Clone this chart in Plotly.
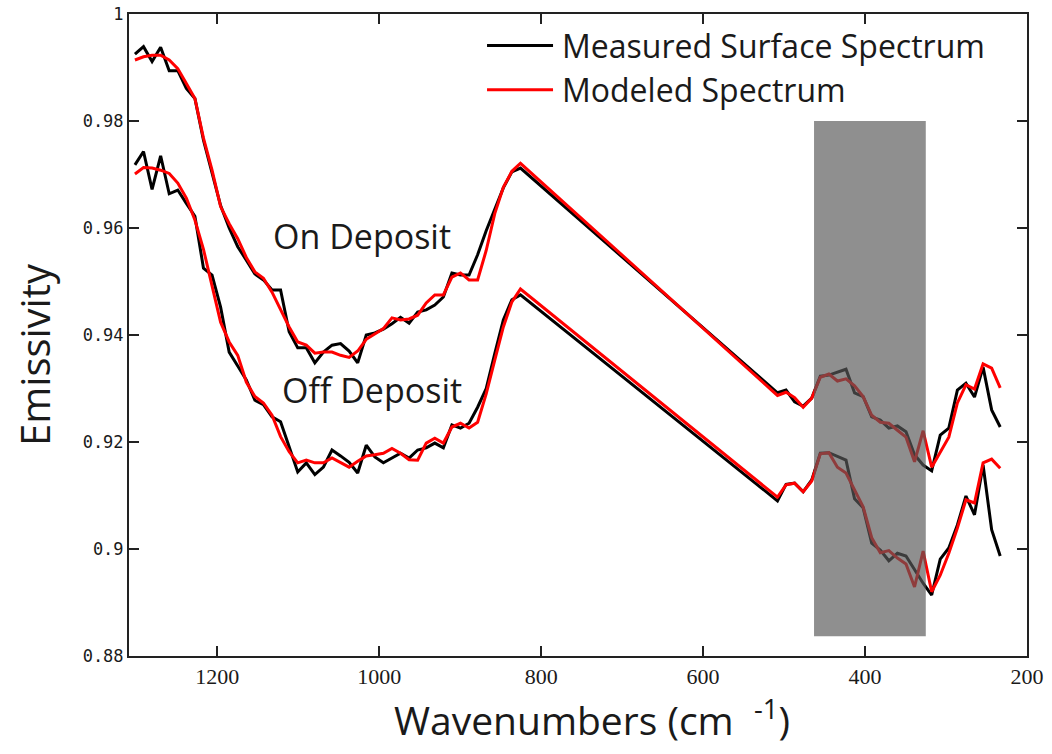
import numpy as np
import plotly.graph_objects as go

# TES-style spectral sampling: channel centres every ~10.58 cm-1
k_high = list(range(101, 55, -1))   # 1301.6 ... 825.6 cm-1
k_low = list(range(26, -1, -1))     # 508.2 ... 233.1 cm-1
wavenumber = [round(233.08 + 10.58 * k, 2) for k in k_high + k_low]

# On-deposit spectra (high band then low band, descending wavenumber)
on_measured = [
    0.9925, 0.9939, 0.9911, 0.9938, 0.9894, 0.9894, 0.9861, 0.9842, 0.9764, 0.9705,
    0.9642, 0.9600, 0.9565, 0.9540, 0.9514, 0.9503, 0.9484, 0.9484, 0.9406, 0.9376,
    0.9376, 0.9348, 0.9368, 0.9381, 0.9384, 0.9370, 0.9348, 0.9400, 0.9404, 0.9411,
    0.9421, 0.9433, 0.9422, 0.9443, 0.9447, 0.9456, 0.9471, 0.9516, 0.9512, 0.9512,
    0.9550, 0.9595, 0.9635, 0.9675, 0.9705, 0.9712,
    0.9292, 0.9297, 0.9275, 0.9267, 0.9282, 0.9323, 0.9325, 0.9331, 0.9336, 0.9292,
    0.9285, 0.9247, 0.9241, 0.9226, 0.9230, 0.9219, 0.9176, 0.9157, 0.9146, 0.9213,
    0.9226, 0.9297, 0.9310, 0.9284, 0.9340, 0.9260, 0.9228,
]
on_modeled = [
    0.9914, 0.9920, 0.9923, 0.9923, 0.9914, 0.9898, 0.9870, 0.9842, 0.9768, 0.9708,
    0.9640, 0.9608, 0.9580, 0.9545, 0.9518, 0.9506, 0.9480, 0.9447, 0.9415, 0.9387,
    0.9381, 0.9366, 0.9368, 0.9368, 0.9362, 0.9358, 0.9370, 0.9392, 0.9402, 0.9412,
    0.9432, 0.9428, 0.9430, 0.9437, 0.9460, 0.9475, 0.9475, 0.9508, 0.9516, 0.9503,
    0.9503, 0.9558, 0.9627, 0.9676, 0.9706, 0.9721,
    0.9287, 0.9293, 0.9283, 0.9265, 0.9282, 0.9321, 0.9327, 0.9314, 0.9318, 0.9305,
    0.9285, 0.9250, 0.9237, 0.9235, 0.9222, 0.9209, 0.9163, 0.9221, 0.9153, 0.9181,
    0.9209, 0.9273, 0.9307, 0.9299, 0.9346, 0.9338, 0.9301,
]

# Off-deposit spectra
off_measured = [
    0.9718, 0.9743, 0.9672, 0.9735, 0.9664, 0.9671, 0.9646, 0.9622, 0.9525, 0.9512,
    0.9452, 0.9368, 0.9342, 0.9316, 0.9278, 0.9270, 0.9247, 0.9238, 0.9191, 0.9144,
    0.9161, 0.9139, 0.9153, 0.9185, 0.9174, 0.9162, 0.9142, 0.9194, 0.9172, 0.9161,
    0.9170, 0.9179, 0.9170, 0.9185, 0.9189, 0.9198, 0.9189, 0.9232, 0.9226, 0.9235,
    0.9265, 0.9300, 0.9365, 0.9428, 0.9466, 0.9475,
    0.9090, 0.9121, 0.9123, 0.9107, 0.9129, 0.9179, 0.9180, 0.9173, 0.9166, 0.9094,
    0.9077, 0.9011, 0.8998, 0.8978, 0.8992, 0.8987, 0.8961, 0.8936, 0.8914, 0.8981,
    0.9002, 0.9045, 0.9099, 0.9064, 0.9157, 0.9036, 0.8987,
]
off_modeled = [
    0.9701, 0.9713, 0.9712, 0.9708, 0.9702, 0.9684, 0.9656, 0.9615, 0.9560, 0.9492,
    0.9424, 0.9387, 0.9362, 0.9312, 0.9285, 0.9273, 0.9250, 0.9210, 0.9182, 0.9161,
    0.9166, 0.9161, 0.9161, 0.9170, 0.9162, 0.9153, 0.9164, 0.9174, 0.9176, 0.9179,
    0.9188, 0.9179, 0.9167, 0.9166, 0.9198, 0.9207, 0.9198, 0.9228, 0.9235, 0.9226,
    0.9237, 0.9290, 0.9353, 0.9415, 0.9462, 0.9486,
    0.9097, 0.9120, 0.9123, 0.9107, 0.9127, 0.9178, 0.9180, 0.9153, 0.9142, 0.9110,
    0.9079, 0.9021, 0.8993, 0.8997, 0.8983, 0.8972, 0.8929, 0.8996, 0.8920, 0.8951,
    0.8992, 0.9039, 0.9092, 0.9086, 0.9161, 0.9168, 0.9151,
]

# Highlighted spectral window
band_x = [463, 325]
band_y = [0.8837, 0.980]

y_ticks = [0.88, 0.90, 0.92, 0.94, 0.96, 0.98, 1.00]
y_tick_text = ["0.88", "0.9", "0.92", "0.94", "0.96", "0.98", "1"]
x_ticks = [1200, 1000, 800, 600, 400, 200]

legend_labels = ["Measured Surface Spectrum", "Modeled Spectrum"]
series_colors = ["#000000", "#ff0000"]

TEXT = "Open Sans"
INK = "#1a1a1a"

fig = go.Figure()
for ys, col in [(on_measured, series_colors[0]), (on_modeled, series_colors[1]),
                (off_measured, series_colors[0]), (off_modeled, series_colors[1])]:
    fig.add_trace(go.Scatter(x=wavenumber, y=ys, mode="lines",
                             line=dict(color=col, width=3), showlegend=False,
                             hoverinfo="skip"))

# translucent grey window drawn over the spectra
fig.add_shape(type="rect", xref="x", yref="y",
              x0=band_x[0], x1=band_x[1], y0=band_y[0], y1=band_y[1],
              fillcolor="rgba(89,89,89,0.675)", line=dict(width=0), layer="above")

# hand-built legend (long line samples)
for i, (lab, col) in enumerate(zip(legend_labels, series_colors)):
    yy = 0.951 - i * 0.069
    fig.add_shape(type="line", xref="paper", yref="paper",
                  x0=0.3987, x1=0.4722, y0=yy, y1=yy,
                  line=dict(color=col, width=3))
    fig.add_annotation(xref="paper", yref="paper", x=0.4800, y=yy,
                       text=lab, showarrow=False, xanchor="left", yanchor="middle",
                       font=dict(family=TEXT, size=32, color=INK))

fig.add_annotation(x=1021, y=0.9585, text="On Deposit", showarrow=False,
                   font=dict(family=TEXT, size=34, color=INK))
fig.add_annotation(x=1009, y=0.9298, text="Off Deposit", showarrow=False,
                   font=dict(family=TEXT, size=34, color=INK))

# axis titles
fig.add_annotation(xref="paper", yref="paper", x=0.5156, y=-0.097,
                   text="Wavenumbers (cm&nbsp;&nbsp;<sup>-1</sup>)", showarrow=False,
                   xanchor="center", yanchor="middle",
                   font=dict(family=TEXT, size=39, color=INK))
fig.add_annotation(xref="paper", yref="paper", x=-0.105, y=0.47,
                   text="Emissivity", showarrow=False, textangle=-90,
                   xanchor="center", yanchor="middle",
                   font=dict(family=TEXT, size=40, color=INK))

axis_common = dict(showline=True, linecolor="#222222", linewidth=2, mirror="ticks",
                   ticks="inside", ticklen=10, tickwidth=1.5, tickcolor="#222222",
                   showgrid=False, zeroline=False)

fig.update_layout(
    width=1052, height=754,
    margin=dict(l=129, r=25, t=14, b=98, autoexpand=False),
    paper_bgcolor="white", plot_bgcolor="white",
    xaxis=dict(range=[1309, 200], tickvals=x_ticks,
               tickfont=dict(family="Liberation Sans Narrow", size=22, color=INK),
               **axis_common),
    yaxis=dict(range=[0.88, 1.0], tickvals=y_ticks, ticktext=y_tick_text,
               tickfont=dict(family="DejaVu Sans Mono", size=17, color=INK),
               **axis_common),
)

fig.write_html("out.html")
